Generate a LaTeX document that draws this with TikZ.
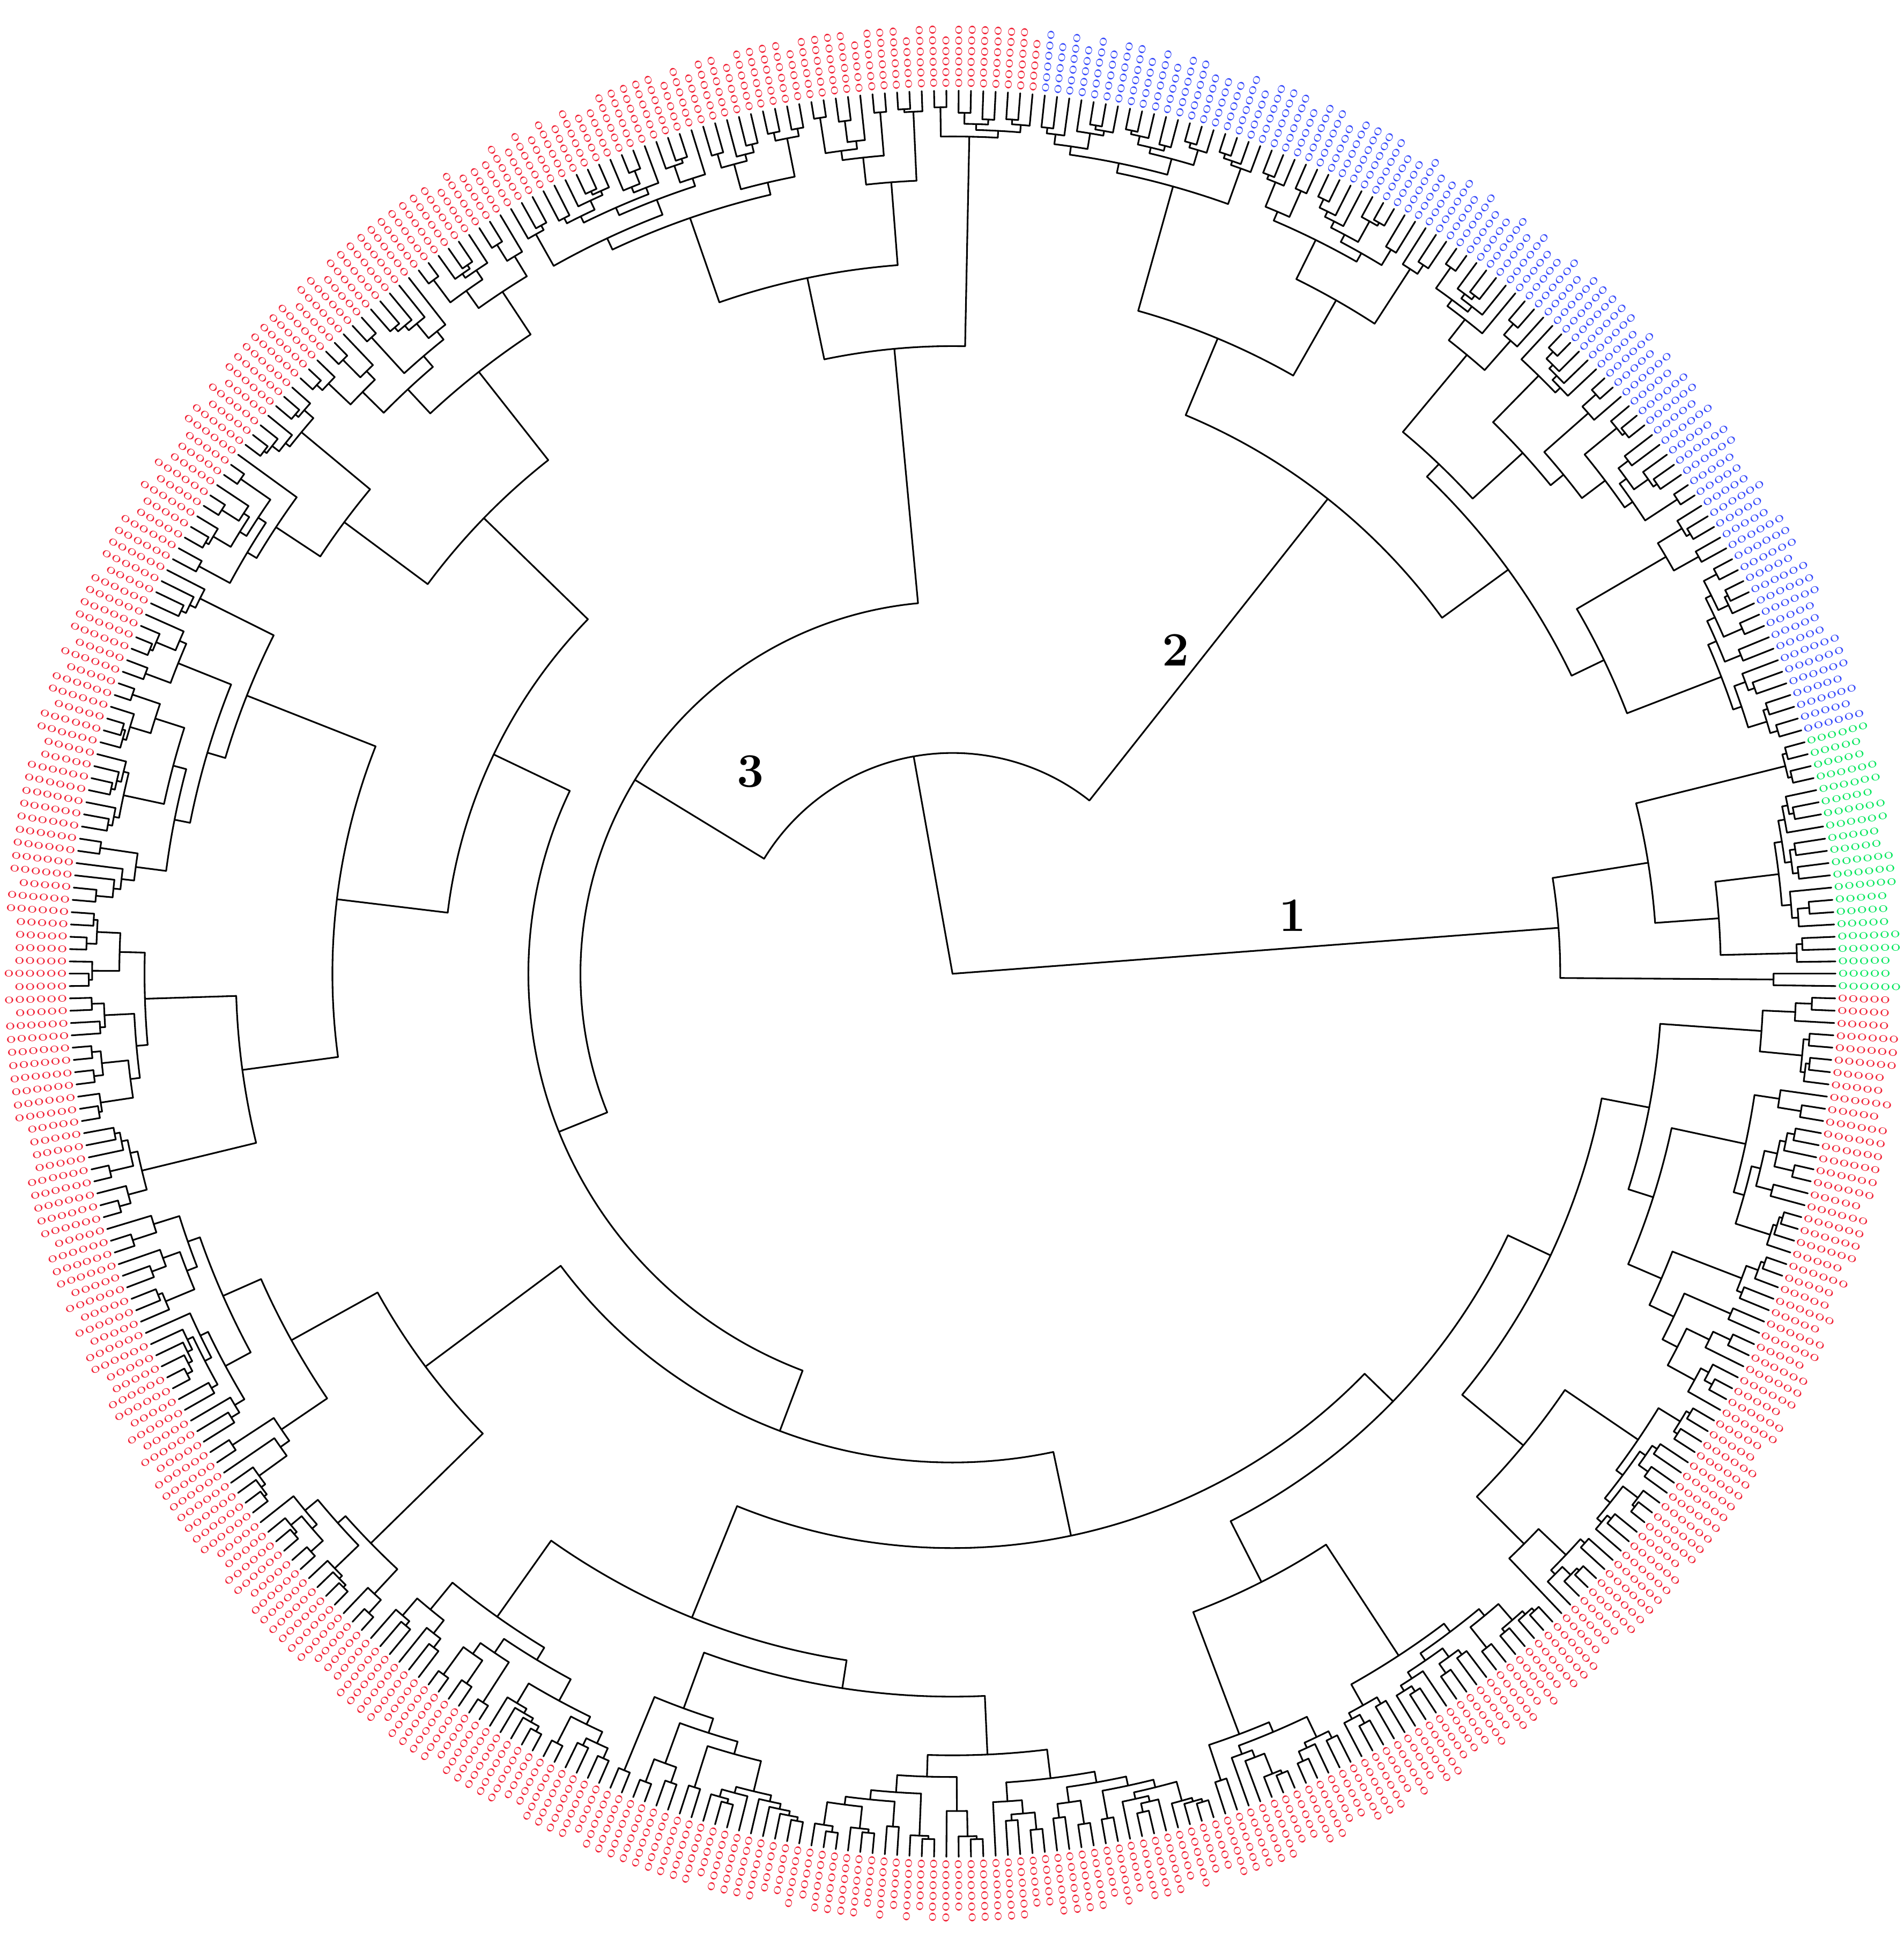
\documentclass[tikz,border=0pt]{standalone}
\usepackage{fontspec}
\definecolor{labr}{RGB}{240,30,50}
\definecolor{labb}{RGB}{50,70,250}
\definecolor{labg}{RGB}{0,230,90}
\tikzset{
  br/.style={line width=0.38pt, black, line cap=round},
  lab/.style={inner sep=0pt, outer sep=0pt, font=\fontsize{3.4}{3.4}\selectfont},
  num/.style={font=\fontsize{11}{11}\selectfont\bfseries, inner sep=0pt}
}
\def\RL{712}
\def\LR{714}
\newcommand\leafdraw[1]{%
  \begingroup
  \pgfmathsetmacro\la{-0.8+0.8*#1}%
  \draw[br] (\la:\rp) -- (\la:\RL);%
  \ifnum#1<21 \def\lc{labg}\else\ifnum#1<107 \def\lc{labb}\else\def\lc{labr}\fi\fi
  \pgfmathtruncatemacro\lt{int(3*rnd)}%
  \ifcase\lt \def\ltx{ooooo}\or\def\ltx{oooooo}\or\def\ltx{oooooo}\else\def\ltx{ooooo}\fi
  \ifdim\la pt<90pt \edef\rot{\la}\def\anc{west}%
  \else\ifdim\la pt<270pt \pgfmathsetmacro\rot{\la-180}\def\anc{east}%
  \else\edef\rot{\la}\def\anc{west}\fi\fi
  \node[lab,text=\lc,rotate=\rot,anchor=\anc] (leaf#1) at (\la:\LR) {\ltx};%
  \xdef\retang{\la}%
  \endgroup}
\newcommand\tnode[3]{%
  \begingroup
    \let\myrp\rp
    \def\rp{#1}%
    #2\let\aA\retang
    #3\let\aB\retang
    \pgfmathsetmacro\am{(\aA+\aB)/2}%
    \draw[br] (\aA:#1) arc[start angle=\aA, end angle=\aB, radius=#1*0.01cm];%
    \draw[br] (\am:\myrp) -- (\am:#1);%
    \global\let\retang\am
  \endgroup}
\newcommand\rsub[3]{%
  \ifnum#1=#2\relax
    \leafdraw{#1}%
  \else
    \begingroup
      \pgfmathtruncatemacro\nn{#2-#1+1}%
      \pgfmathsetmacro\uu{0.15+0.7*rnd}%
      \pgfmathtruncatemacro\kk{#1+floor(\nn*\uu)-1}%
      \ifnum\kk<#1\relax\edef\kk{#1}\fi
      \ifnum\kk<#2\relax\else\pgfmathtruncatemacro\kk{#2-1}\fi
      \pgfmathtruncatemacro\kb{\kk+1}%
      \pgfmathtruncatemacro\ma{\kk-#1+1}%
      \pgfmathtruncatemacro\mb{#2-\kk}%
      \pgfmathsetmacro\ra{\RL-min(14*\ma^0.6*(0.6+0.8*rnd),0.85*(\RL-#3))}%
      \pgfmathsetmacro\rb{\RL-min(14*\mb^0.6*(0.6+0.8*rnd),0.85*(\RL-#3))}%
      \edef\next{\noexpand\tnode{#3}{\noexpand\rsub{#1}{\kk}{\ra}}{\noexpand\rsub{\kb}{#2}{\rb}}}%
    \expandafter\endgroup\next
  \fi}
\begin{document}
\begin{tikzpicture}[x=0.01cm,y=0.01cm]
\fill[white] (-768,-783) rectangle (767,785);
\useasboundingbox (-768,-783) rectangle (767,785);
\pgfmathsetseed{12}
\def\rp{0}
% cluster 1 (green)
\tnode{490}{\rsub{0}{1}{662}}{\rsub{2}{20}{568}}
% clusters 2 and 3
\tnode{178}{%
  \tnode{488}{\tnode{554}{\rsub{21}{41}{583}}{\rsub{42}{70}{568}}}{\rsub{71}{106}{555}}}{%
  \tnode{300}{%
     \tnode{506}{\rsub{107}{115}{675}}{\tnode{573}{\rsub{116}{125}{640}}{\rsub{126}{151}{645}}}}{%
     \tnode{342}{%
        \tnode{410}{\rsub{152}{191}{527}}{\rsub{192}{246}{500}}}{%
        \tnode{394}{\rsub{247}{286}{530}}{%
           \tnode{463}{\rsub{287}{360}{560}}{%
              \tnode{495}{\rsub{361}{392}{550}}{%
                 \tnode{533}{\rsub{393}{413}{597}}{\rsub{414}{449}{572}}}}}}}}
\node[num] (n1) at (274,47) {1};
\node[num] (n2) at (180,261) {2};
\node[num] (n3) at (-163,163) {3};
\end{tikzpicture}
\end{document}
